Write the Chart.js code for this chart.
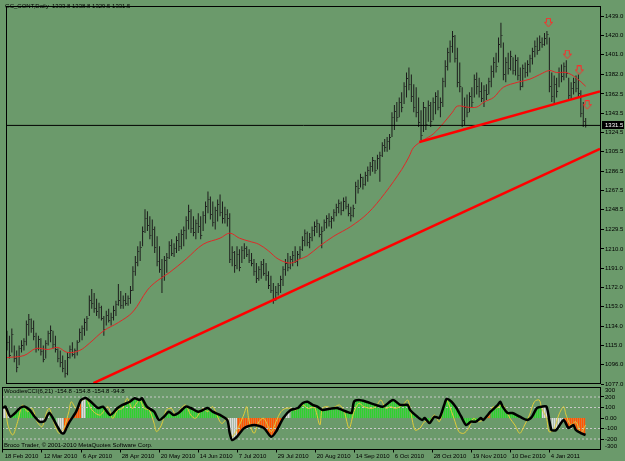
<!DOCTYPE html>
<html>
<head>
<meta charset="utf-8">
<script src="https://cdn.jsdelivr.net/npm/chart.js@4.4.0/dist/chart.umd.min.js"></script>
<style>
html, body { margin: 0; padding: 0; background: #6b9a6b; }
#wrap { position: relative; width: 625px; height: 461px; overflow: hidden;
  font-family: 'Liberation Sans', Arial, sans-serif; font-size: 6px; color: #000; }
canvas { position: absolute; left: 0; }
#main { top: 0; }
#ind { top: 383px; }
.lbl { position: absolute; white-space: pre; line-height: 7px; }
</style>
</head>
<body>
<div id="wrap">
  <canvas id="main" width="625" height="390"></canvas>
  <canvas id="ind" width="625" height="78"></canvas>
  <div class="lbl" id="title" style="left:5px;top:3px"></div>
  <div class="lbl" id="indTitle" style="left:4px;top:388px"></div>
  <div class="lbl" id="copy" style="left:4px;top:442px"></div>
</div>
<script>
// daily bars, index 0 = 18 Feb 2010
const highs = [
  1129.5,1124.5,1131.5,1115,1110,1115,1120,1122,1139.5,1146,
  1141.5,1139.5,1127.5,1124.5,1122,1115,1120,1129.5,1134.5,1129.5,
  1124.5,1112,1110,1105,1100.5,1108,1115,1118,1112,1120,
  1131.5,1134.5,1141.5,1144,1164,1170.5,1166.5,1161,1157,1154,
  1144,1149,1151,1147,1154,1159,1175.5,1168.5,1164,1166.5,
  1164,1173.5,1193,1203,1212.5,1217.5,1232,1249,1247,1242,
  1239,1232,1222.5,1212.5,1200,1203,1206,1217.5,1219.5,1215.5,
  1222.5,1225.5,1229,1232,1242,1253.5,1249,1242,1239,1245,
  1242,1247,1256.5,1266.5,1261.5,1256.5,1251.5,1258.5,1263.5,1256.5,
  1251.5,1249,1245,1212.5,1208,1212.5,1209.5,1212.5,1215.5,1212.5,
  1209.5,1206,1200,1196,1193,1198,1200,1196,1188,1183.5,
  1176.5,1173.5,1176.5,1183.5,1193,1200,1206,1203,1208,1212.5,
  1208,1212.5,1222.5,1229,1227,1225.5,1232,1237,1239,1235,
  1232,1239,1243,1245,1242,1249,1254.5,1258.5,1256.5,1260.5,
  1261.5,1254.5,1251.5,1253.5,1276,1278,1284,1281,1286,1291,
  1295.5,1300.5,1297.5,1302.5,1305.5,1315,1318,1320,1323,1344.5,
  1351.5,1354.5,1359,1364,1374,1383.5,1388.5,1381.5,1372,1369,
  1359,1346.5,1354.5,1349.5,1356,1354.5,1359,1364,1366,1359,
  1378.5,1395.5,1408,1415,1424.5,1420.5,1408,1393.5,1369,1359,
  1362,1364,1369,1381.5,1383.5,1378.5,1374,1371,1372,1378.5,
  1390.5,1398.5,1403,1418,1432.5,1413,1398.5,1403,1405,1398.5,
  1401,1398.5,1388.5,1391.5,1393.5,1395.5,1401,1408,1415,1418,
  1420,1418,1422.5,1424.5,1418,1383.5,1380.5,1378.5,1388.5,1391.5,
  1393.5,1395.5,1378.5,1374,1378.5,1380.5,1381.5,1366,1354.5,1338.8
];
const lows = [
  1110,1102,1108,1098.5,1088.5,1095.5,1108,1110,1115,1124.5,
  1127.5,1120,1108,1110,1105,1098.5,1102,1115,1118,1112,
  1108,1098.5,1093.5,1088.5,1083.5,1085.5,1102,1104,1102,1105,
  1118,1120,1124.5,1129.5,1144,1151,1147,1144,1141.5,1139.5,
  1124.5,1134.5,1137.5,1134.5,1139.5,1144,1154,1151,1151,1154,
  1154,1156,1168.5,1183.5,1193,1198,1212.5,1225.5,1227.5,1219.5,
  1212.5,1206,1193,1186.5,1166.5,1178.5,1186.5,1200,1203,1202,
  1206,1208,1209.5,1212.5,1219.5,1229,1225.5,1222.5,1219.5,1225.5,
  1219.5,1227.5,1235,1245,1239,1232,1229,1237,1242,1235,
  1235,1232,1196,1193,1186.5,1190,1188,1196,1200,1202,
  1196,1193,1183.5,1176.5,1178.5,1180.5,1183.5,1178.5,1170.5,1166.5,
  1156,1159,1164,1166.5,1173.5,1183.5,1188,1190,1193,1196,
  1193,1200,1208,1212.5,1212.5,1210.5,1217.5,1222.5,1225.5,1221.5,
  1210.5,1227.5,1230,1232,1230,1237,1242,1245,1243,1247,
  1249,1242,1237,1241,1254.5,1264.5,1270.5,1268.5,1272,1276,
  1282,1286,1284,1288,1276,1300.5,1305.5,1305.5,1307.5,1320,
  1327,1335,1339.5,1344.5,1352.5,1359,1366,1354.5,1344.5,1339.5,
  1330,1317,1325,1327,1335,1330,1336.5,1342.5,1346.5,1339.5,
  1349.5,1369,1385.5,1393.5,1403,1393.5,1369,1364,1330,1332,
  1339.5,1344.5,1349.5,1359,1362,1359,1354.5,1349.5,1356.5,1362,
  1369,1378.5,1383.5,1393.5,1408,1376,1374,1381.5,1385.5,1381.5,
  1380.5,1376,1366,1369,1378.5,1379.5,1383.5,1391.5,1398.5,1401,
  1405,1408,1410,1411,1364,1354.5,1352.5,1359,1369,1374,
  1376,1378.5,1356.5,1357,1362,1364,1359,1339.5,1330,1329.5
];
const closes = [
  1118,1106,1126,1103,1094,1112,1115,1119,1136,1141,
  1132,1124,1112,1121,1109,1102,1117,1127,1130,1116,
  1111,1103,1099,1093,1088,1104,1111,1107,1110,1118,
  1128,1132,1138,1142,1160,1157,1152,1149,1153,1142,
  1131,1145,1140,1143,1150,1156,1160,1155,1160,1157,
  1162,1170,1188,1197,1208,1212,1228,1240,1233,1224,
  1230,1212,1198,1190,1183,1199,1202,1214,1206,1211,
  1219,1213,1225,1229,1238,1247,1231,1227,1235,1232,
  1224,1243,1252,1259,1244,1236,1248,1254,1246,1240,
  1244,1240,1200,1207,1194,1205,1192,1209,1211,1205,
  1199,1196,1188,1181,1190,1195,1186,1184,1174,1170,
  1160,1168,1174,1180,1190,1196,1192,1200,1204,1198,
  1205,1210,1219,1226,1217,1222,1229,1232,1235,1225,
  1228,1236,1240,1237,1240,1246,1251,1255,1248,1257,
  1252,1245,1243,1250,1272,1270,1281,1274,1283,1288,
  1292,1297,1288,1299,1302,1312,1310,1316,1320,1340,
  1346,1340,1355,1350,1370,1378,1372,1360,1350,1345,
  1335,1322,1350,1333,1352,1336,1355,1360,1350,1355,
  1375,1390,1404,1410,1419,1398,1374,1370,1337,1350,
  1345,1360,1355,1377,1370,1365,1358,1366,1362,1375,
  1385,1394,1390,1412,1420,1382,1394,1388,1400,1386,
  1396,1381,1370,1388,1384,1392,1398,1405,1410,1406,
  1414,1412,1418,1421,1370,1360,1372,1365,1384,1380,
  1390,1383,1361,1368,1374,1368,1363,1344,1336,1331.5
];
const lastOpen = 1333.8;

// red moving average [bar, price]
const maLine = [
  [0,1103],[7,1105],[12,1112],[17,1111],[21,1113],[25,1108],[30,1110],[34,1117],[40,1129.5],[46,1137.5],
  [52,1148],[58,1169.5],[62,1178.5],[67,1186.5],[74,1200],[81,1214.5],[88,1220.5],[92,1225.5],[96,1220.5],[100,1217.5],
  [104,1214.5],[108,1208],[112,1200],[117,1196],[121,1200],[124,1203],[129,1212.5],[135,1222.5],[142,1232],[149,1245],
  [156,1264.5],[163,1288],[166,1300.5],[168,1310],[172,1317],[176,1323],[180,1333],[184,1344.5],[186,1350.5],[190,1349.5],
  [194,1349.5],[197,1354.5],[201,1359],[205,1369],[211,1374],[216,1377],[220,1381.5],[224,1385.5],[227,1383.5],[231,1383.5],
  [235,1378.5],[239,1370]
];
// trend lines [bar, price]
const trendLow = [[35.7,1077.8],[244.9,1308.4]];
const trendHigh = [[170.3,1315.2],[244.9,1365]];
// fractal arrows [bar, price]
const fractalsUp = [[223.6,1432.5],[231.4,1401.2],[236.3,1385.6],[239.6,1351.4]];

const priceTicks = [1077,1096,1115,1134,1153,1172,1191,1210,1229.5,1248.5,1267.5,1286.5,1305.5,1324.5,1343.5,1362.5,1382,1401,1420,1439];

// Woodies CCI: [bar, value]
const cciLine = [
  [0,95],[1,108],[3,12],[5,48],[7,95],[9,108],[11,76],[13,12],[15,-35],[17,-30],
  [19,48],[22,-67],[24,-143],[25,-145],[27,-48],[30,60],[32,171],[34,190],[36,155],[39,95],
  [41,108],[44,29],[47,95],[49,124],[52,155],[54,188],[56,171],[57,188],[59,108],[62,60],
  [64,-19],[66,12],[68,60],[70,29],[72,48],[75,108],[77,95],[80,60],[82,76],[84,95],
  [86,60],[89,29],[92,-19],[93,-143],[94,-210],[96,-178],[99,-95],[103,-67],[107,-95],[110,-178],
  [112,-130],[115,0],[118,76],[121,95],[123,143],[125,155],[127,124],[129,108],[131,76],[134,88],
  [137,95],[141,60],[143,48],[144,155],[146,171],[149,155],[153,124],[156,108],[160,171],[163,124],
  [166,124],[167,76],[170,12],[172,-19],[173,0],[175,-48],[177,12],[179,0],[181,124],[182,181],
  [184,155],[186,95],[188,12],[190,-67],[192,-35],[194,-35],[196,0],[197,-19],[200,60],[203,124],
  [204,155],[205,108],[207,48],[209,48],[212,12],[215,-19],[217,12],[219,95],[221,108],[223,108],
  [225,-114],[227,-114],[230,-19],[232,-95],[234,-67],[235,-114],[237,-143],[239,-162]
];
const tcciLine = [
  [0,108],[1,92],[2,-67],[4,-162],[6,-35],[8,124],[10,60],[12,92],[14,-35],[16,-83],
  [18,60],[19,92],[21,-51],[23,-146],[25,-98],[27,60],[28,155],[30,92],[32,155],[34,187],
  [36,92],[38,44],[40,29],[43,108],[45,-3],[47,76],[49,92],[51,187],[53,92],[56,171],
  [58,92],[60,76],[62,-51],[63,-130],[65,-67],[67,76],[69,92],[71,29],[73,92],[75,124],
  [77,29],[79,-3],[82,92],[84,60],[86,108],[89,-35],[90,-51],[92,-3],[93,-114],[94,-178],
  [97,-67],[99,44],[100,108],[101,-35],[103,-146],[105,-35],[107,-3],[110,-130],[112,-35],[114,60],
  [116,92],[118,92],[120,76],[123,124],[125,92],[127,100],[128,95],[130,-67],[131,92],[133,108],
  [135,92],[138,124],[140,60],[142,-98],[144,60],[146,140],[148,108],[151,92],[153,108],[155,171],
  [157,92],[159,108],[161,92],[164,124],[166,171],[167,92],[169,-114],[171,-98],[173,-35],[175,-35],
  [177,29],[179,-35],[181,124],[182,171],[183,124],[185,-3],[187,-130],[189,-146],[191,-98],[193,-3],
  [195,-35],[197,-19],[199,12],[201,108],[202,92],[205,124],[206,92],[208,-3],[210,-67],[212,-146],
  [214,-67],[216,29],[218,155],[220,171],[221,92],[223,-3],[224,-130],[226,-114],[228,29],[230,108],
  [231,29],[233,-67],[235,-35],[237,-146],[238,-114],[239,-67]
];
// histogram trend zones [fromBar, toBar, kind]  g = up, r = down, n = neutral
const trendZones = [
  [0,3,'n'],[3,13,'g'],[13,19,'n'],[19,22,'g'],[22,25,'n'],[25,27,'r'],[27,30,'n'],[30,32,'r'],[32,34,'n'],
  [34,92,'g'],[92,96,'n'],[96,115,'r'],[115,118,'n'],[118,181,'g'],[181,188,'g'],[188,196,'g'],[196,200,'r'],
  [200,221,'g'],[221,230,'n'],[230,239,'r']
];
const cciLevels = [200, 100, -100, -200];

const dateTicks = [0,16,32,48,64,80,96,112,128,144,160,176,192,208,224];
const dateLabels = ['18 Feb 2010','12 Mar 2010','6 Apr 2010','28 Apr 2010','20 May 2010','14 Jun 2010','7 Jul 2010',
  '29 Jul 2010','20 Aug 2010','14 Sep 2010','6 Oct 2010','28 Oct 2010','19 Nov 2010','10 Dec 2010','4 Jan 2011'];

const X_MIN = -0.41, X_MAX = 245.33;
const last = closes.length - 1;

document.getElementById('title').textContent =
  'GC_CONT,Daily  ' + [lastOpen, highs[last], lows[last], closes[last]].map(v => v.toFixed(1)).join(' ');
document.getElementById('indTitle').textContent = 'WoodiesCCI(6,21) -154.8 -154.8 -154.8 -94.8';
document.getElementById('copy').textContent = 'Broco Trader, \u00a9 2001-2010 MetaQuotes Software Corp.';

Chart.defaults.font.family = "'Liberation Sans', Arial, sans-serif";
Chart.defaults.font.size = 6;
Chart.defaults.color = '#000';

const pts = arr => arr.map(p => ({ x: p[0], y: p[1] }));

const frame = {
  id: 'frame',
  afterDraw(chart) {
    const { ctx, chartArea: a } = chart;
    ctx.save();
    ctx.strokeStyle = '#000';
    ctx.lineWidth = 1;
    ctx.strokeRect(Math.round(a.left) + 0.5, Math.round(a.top) + 0.5,
      Math.round(a.right - a.left) - 1, Math.round(a.bottom - a.top) - 1);
    ctx.restore();
  }
};

// close ticks on the right of each bar
const closeTicks = {
  id: 'closeTicks',
  afterDatasetDraw(chart, args) {
    if (args.meta.type !== 'bar') return;
    const { ctx, scales: { x, y } } = chart;
    ctx.save();
    ctx.fillStyle = '#222';
    closes.forEach((c, i) => {
      ctx.fillRect(x.getPixelForValue(i) + 0.5, Math.round(y.getPixelForValue(c)), 1, 1);
    });
    ctx.restore();
  }
};

const priceBox = {
  id: 'priceBox',
  afterDraw(chart) {
    const { ctx, chartArea: a, scales: { y } } = chart;
    const py = Math.round(y.getPixelForValue(closes[last]));
    ctx.save();
    ctx.fillStyle = '#000';
    ctx.fillRect(a.right + 1, py - 4, 22, 8);
    ctx.fillStyle = '#fff';
    ctx.font = "6px 'Liberation Sans'";
    ctx.textBaseline = 'middle';
    ctx.fillText(closes[last].toFixed(1), a.right + 4, py + 0.5);
    ctx.restore();
  }
};

function arrowImg() {
  const c = document.createElement('canvas');
  c.width = 9; c.height = 10;
  const g = c.getContext('2d');
  g.strokeStyle = '#ff2a2a';
  g.lineWidth = 1;
  g.beginPath();
  g.moveTo(2.5, 0.5); g.lineTo(6.5, 0.5); g.lineTo(6.5, 4.5); g.lineTo(8.5, 4.5);
  g.lineTo(4.5, 9); g.lineTo(0.5, 4.5); g.lineTo(2.5, 4.5); g.closePath();
  g.stroke();
  return c;
}

new Chart(document.getElementById('main'), {
  type: 'bar',
  data: {
    datasets: [
      { type: 'line', data: pts(trendLow), borderColor: '#ff0000', borderWidth: 2.5, pointRadius: 0, order: 1 },
      { type: 'line', data: pts(trendHigh), borderColor: '#ff0000', borderWidth: 2.5, pointRadius: 0, order: 1 },
      { type: 'line', data: [{ x: X_MIN, y: closes[last] }, { x: X_MAX, y: closes[last] }],
        borderColor: '#000', borderWidth: 1, pointRadius: 0, order: 2 },
      { type: 'line', data: pts(maLine), borderColor: '#e02828', borderWidth: 1, pointRadius: 0,
        tension: 0.35, order: 2 },
      { type: 'line', data: pts(fractalsUp), showLine: false, pointStyle: arrowImg(), pointRadius: 5, order: 0 },
      { type: 'bar', data: highs.map((h, i) => ({ x: i, y: [lows[i], h] })),
        backgroundColor: '#1c1c1c', barThickness: 1, inflateAmount: 0, grouped: false, order: 5 }
    ]
  },
  options: {
    responsive: false, animation: false, events: [],
    layout: { padding: { left: 2, top: 3, right: 0, bottom: 6 } },
    plugins: { legend: { display: false }, tooltip: { enabled: false } },
    scales: {
      x: { type: 'linear', display: false, min: X_MIN, max: X_MAX, offset: false },
      y: {
        position: 'right', min: 1077, max: 1449,
        afterBuildTicks: s => { s.ticks = priceTicks.map(v => ({ value: v })); },
        afterFit: s => { s.width = 24; s.paddingTop = 0; s.paddingBottom = 0; },
        ticks: { autoSkip: false, padding: 1, callback: v => Number(v).toFixed(1) },
        grid: { drawOnChartArea: false, tickLength: 3, tickColor: '#000' },
        border: { display: false }
      }
    }
  },
  plugins: [frame, closeTicks, priceBox]
});

// indicator window
function stripe(c1, c2) {
  const c = document.createElement('canvas');
  c.width = 2; c.height = 1;
  const g = c.getContext('2d');
  g.fillStyle = c1; g.fillRect(0, 0, 1, 1);
  g.fillStyle = c2; g.fillRect(1, 0, 1, 1);
  return g.createPattern(c, 'repeat');
}
const zoneFill = {
  g: stripe('#2fd02f', '#56bd56'),
  r: stripe('#ff5500', '#dd7a3a'),
  n: stripe('#dcdcdc', '#a9bba9')
};
function histFor(kind) {
  return cciLine.map(p => {
    const inZone = trendZones.some(z => z[2] === kind && p[0] >= z[0] && p[0] <= z[1]);
    return { x: p[0], y: inZone ? p[1] : null };
  });
}

const edgeLabels = {
  id: 'edgeLabels',
  afterDraw(chart) {
    const { ctx, chartArea: a, scales: { y } } = chart;
    ctx.save();
    ctx.font = "6px 'Liberation Sans'";
    ctx.fillStyle = '#000';
    ctx.textBaseline = 'top';
    ctx.fillText(String(y.max), a.right + 4, a.top + 1);
    ctx.textBaseline = 'bottom';
    ctx.fillText(String(y.min), a.right + 4, a.bottom);
    ctx.restore();
  }
};

const indSets = ['g', 'r', 'n'].map(k => ({
  data: histFor(k), borderWidth: 0, pointRadius: 0, fill: 'origin', tension: 0.25,
  backgroundColor: zoneFill[k], spanGaps: false, order: 5
}));
cciLevels.forEach(v => indSets.push({
  data: [{ x: X_MIN, y: v }, { x: X_MAX, y: v }], borderColor: '#c9c9c9', borderWidth: 1,
  borderDash: [2, 2], pointRadius: 0, order: 4
}));
indSets.push({ data: pts(tcciLine), borderColor: '#e2cc3a', borderWidth: 1, pointRadius: 0, tension: 0.3, order: 2 });
indSets.push({ data: pts(cciLine), borderColor: '#000', borderWidth: 2.5, pointRadius: 0, tension: 0.25, order: 1 });

new Chart(document.getElementById('ind'), {
  type: 'line',
  data: { datasets: indSets },
  options: {
    responsive: false, animation: false, events: [],
    layout: { padding: { left: 2, top: 3.5, right: 0, bottom: 0 } },
    plugins: { legend: { display: false }, tooltip: { enabled: false } },
    scales: {
      x: {
        type: 'linear', min: X_MIN, max: X_MAX,
        afterBuildTicks: s => { s.ticks = dateTicks.map(v => ({ value: v })); },
        afterFit: s => { s.height = 11.5; s.paddingLeft = 0; s.paddingRight = 0; },
        ticks: { autoSkip: false, maxRotation: 0, align: 'start', padding: 0,
          callback: (v, i) => ' ' + dateLabels[i] },
        grid: { drawOnChartArea: false, tickLength: 3, tickColor: '#000' },
        border: { display: false }
      },
      y: {
        position: 'right', min: -300, max: 300,
        afterBuildTicks: s => { s.ticks = [200, 100, 0, -100, -200].map(v => ({ value: v })); },
        afterFit: s => { s.width = 24; s.paddingTop = 0; s.paddingBottom = 0; },
        ticks: { autoSkip: false, padding: 1, callback: v => (v === 0 ? '0.00' : String(v)) },
        grid: { drawOnChartArea: false, tickLength: 3, tickColor: '#000' },
        border: { display: false }
      }
    }
  },
  plugins: [frame, edgeLabels]
});
</script>
</body>
</html>
